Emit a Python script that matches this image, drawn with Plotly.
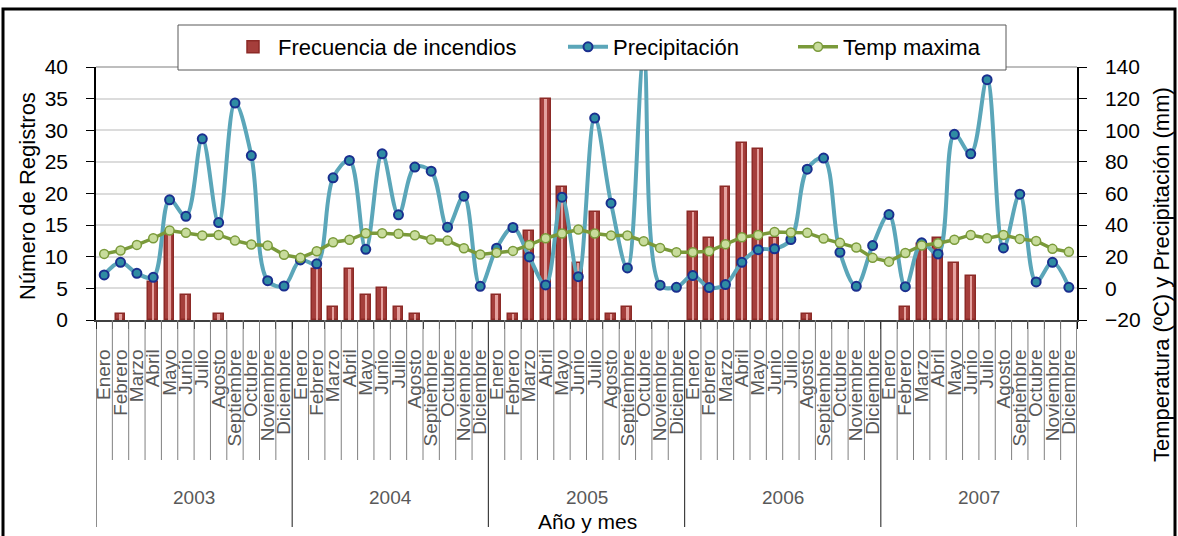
import plotly.graph_objects as go

# ---------------- data ----------------
months = ["Enero", "Febrero", "Marzo", "Abril", "Mayo", "Junio", "Julio",
          "Agosto", "Septiembre", "Octubre", "Noviembre", "Diciembre"]
years = ["2003", "2004", "2005", "2006", "2007"]

incendios_2003 = [0, 1, 0, 6, 14, 4, 0, 1, 0, 0, 0, 0]
incendios_2004 = [0, 8, 2, 8, 4, 5, 2, 1, 0, 0, 0, 0]
incendios_2005 = [4, 1, 14, 35, 21, 9, 17, 1, 2, 0, 0, 0]
incendios_2006 = [17, 13, 21, 28, 27, 13, 0, 1, 0, 0, 0, 0]
incendios_2007 = [0, 2, 12, 13, 9, 7, 0, 0, 0, 0, 0, 0]

precip_2003 = [8.5, 16.5, 9.5, 7, 56, 45.6, 94.6, 41.6, 117.2, 84, 4.9, 1.5]
precip_2004 = [18, 15.5, 69.9, 80.9, 24.7, 85.1, 46.5, 76.7, 74.1, 38.7, 58.3, 1.3]
precip_2005 = [25.4, 38.5, 19.9, 2.2, 57.7, 7.4, 107.7, 53.9, 12.9, 146, 2, 0.7]
precip_2006 = [8.1, 0.5, 2.4, 16.5, 24.5, 25, 30.9, 75.4, 82.4, 22.8, 1.3, 27.1]
precip_2007 = [46.7, 1.1, 28.8, 21.8, 97.4, 85.1, 132, 25.6, 59.6, 4.1, 16.5, 0.7]

temp_2003 = [21.8, 23.9, 27.5, 31.7, 36.6, 35.1, 33.4, 33.8, 30.2, 27.7, 27.1, 21.2]
temp_2004 = [19.3, 23.5, 29.2, 30.7, 34.9, 34.9, 34.5, 33.6, 30.9, 30.2, 25.4, 21.4]
temp_2005 = [22.6, 23.7, 27.5, 31.7, 34.7, 37.2, 34.7, 33.4, 33.4, 29.8, 25.6, 22.9]
temp_2006 = [22.8, 23.5, 27.9, 32.3, 33.8, 35.7, 35.3, 35.1, 31.5, 28.8, 25.8, 19.3]
temp_2007 = [16.9, 22.4, 27.1, 28.5, 30.7, 33.8, 31.7, 33.8, 31.3, 30.0, 25.0, 23.1]

left_ticks = [0, 5, 10, 15, 20, 25, 30, 35, 40]
right_ticks = [-20, 0, 20, 40, 60, 80, 100, 120, 140]

incendios = incendios_2003 + incendios_2004 + incendios_2005 + incendios_2006 + incendios_2007
precip = precip_2003 + precip_2004 + precip_2005 + precip_2006 + precip_2007
temp = temp_2003 + temp_2004 + temp_2005 + temp_2006 + temp_2007
labels = months * len(years)
x = list(range(len(labels)))
# months without fires draw no bar at all
incendios_bars = [v if v else None for v in incendios]

# ---------------- layout geometry (pixels) ----------------
W, H = 1178, 536
ML, MR, MT, MB = 96, 101, 67, 216
PW, PH = W - ML - MR, H - MT - MB


def px(xp):
    return (xp - ML) / PW


def py(yp):
    return (H - MB - yp) / PH


FONT = "Liberation Sans, Arial, sans-serif"

fig = go.Figure()

fig.add_trace(go.Bar(
    x=x, y=incendios_bars, name="Frecuencia de incendios",
    marker=dict(color="#a53e3b", line=dict(color="#8c2a27", width=1.5)),
    width=0.6, yaxis="y", legend="legend",
))
fig.add_trace(go.Bar(
    x=x, y=incendios_bars, showlegend=False, hoverinfo="skip",
    marker=dict(color="rgba(240,180,178,0.85)", line=dict(width=0)),
    width=0.14, yaxis="y",
))
fig.add_trace(go.Scatter(
    x=x, y=precip, name="Precipitación", mode="lines+markers",
    line=dict(color="#5ba6b9", width=4, shape="spline", smoothing=1.0),
    marker=dict(size=9, color="#2f8ca3", line=dict(color="#1a2f8f", width=2)),
    yaxis="y2", legend="legend2",
))
fig.add_trace(go.Scatter(
    x=x, y=temp, name="Temp maxima", mode="lines+markers",
    line=dict(color="#7a9a3a", width=3.5),
    marker=dict(size=9, color="#c8dc9c", line=dict(color="#7a9a3a", width=1.5)),
    yaxis="y2", legend="legend2",
))

shapes = []
# month separators and year separators below the x axis
for k in range(len(labels) + 1):
    xb = k - 0.5
    if k % 12 == 0:
        shapes.append(dict(type="line", xref="x", yref="paper", x0=xb, x1=xb,
                           y0=0, y1=py(527), line=dict(color="#404040", width=1.2)))
    else:
        shapes.append(dict(type="line", xref="x", yref="paper", x0=xb, x1=xb,
                           y0=0, y1=py(460), line=dict(color="#808080", width=1)))
# top border of the plot area
shapes.append(dict(type="line", xref="paper", yref="paper", x0=0, x1=1, y0=1, y1=1,
                   line=dict(color="#7f7f7f", width=1.2)))
# legend box
shapes.append(dict(type="rect", xref="paper", yref="paper", layer="above",
                   x0=px(178), x1=px(1006), y0=py(70), y1=py(25),
                   fillcolor="white", line=dict(color="#595959", width=1)))
# outer chart frame
shapes.append(dict(type="rect", xref="paper", yref="paper",
                   x0=px(3), x1=px(1175), y0=py(548), y1=py(9),
                   fillcolor="rgba(0,0,0,0)", line=dict(color="black", width=3)))

annotations = []
for i, yr in enumerate(years):
    annotations.append(dict(x=i * 12 + 5.5, y=py(497), xref="x", yref="paper",
                            xanchor="center", yanchor="middle",
                            text=yr, showarrow=False,
                            font=dict(family=FONT, size=19, color="#595959")))
annotations.append(dict(x=px(587), y=py(521), xref="paper", yref="paper",
                        xanchor="center", yanchor="middle",
                        text="Año y mes", showarrow=False,
                        font=dict(family=FONT, size=21, color="black")))
annotations.append(dict(x=px(28), y=py(196), xref="paper", yref="paper",
                        xanchor="center", yanchor="middle",
                        text="Número de Registros", showarrow=False, textangle=-90,
                        font=dict(family=FONT, size=22, color="black")))
annotations.append(dict(x=px(1161), y=py(275), xref="paper", yref="paper",
                        xanchor="center", yanchor="middle",
                        text="Temperatura (ºC) y Precipitación (mm)", showarrow=False,
                        textangle=-90, font=dict(family=FONT, size=22, color="black")))

legend_common = dict(orientation="h", yanchor="middle", y=py(47), xanchor="left",
                     bgcolor="rgba(0,0,0,0)", borderwidth=0,
                     font=dict(family=FONT, size=22, color="black"),
                     itemwidth=40, tracegroupgap=0)

fig.update_layout(
    width=W, height=H,
    margin=dict(l=ML, r=MR, t=MT, b=MB, pad=0, autoexpand=False),
    paper_bgcolor="white", plot_bgcolor="white",
    barmode="overlay", bargap=0,
    font=dict(family=FONT, color="black"),
    showlegend=True,
    legend=dict(x=px(228), **legend_common),
    legend2=dict(x=px(563), entrywidth=175, entrywidthmode="pixels", **legend_common),
    xaxis=dict(
        range=[-0.5, len(labels) - 0.5], tickmode="array", tickvals=x, ticktext=labels,
        tickangle=-90, ticks="", showgrid=False, zeroline=False,
        showline=True, linecolor="#404040", linewidth=1.5,
        tickfont=dict(family=FONT, size=19, color="#595959"),
        ticklabelstandoff=20,
        minor=dict(tickmode="array", tickvals=[k - 0.5 for k in range(len(labels) + 1)],
                   ticks="outside", ticklen=7, tickcolor="black", tickwidth=1.2,
                   showgrid=False),
    ),
    yaxis=dict(
        range=[0, 40], tickmode="array", tickvals=left_ticks,
        showgrid=True, gridcolor="#dcdcdc", gridwidth=1.5, zeroline=False,
        showline=True, linecolor="black", linewidth=1.5,
        ticks="outside", ticklen=8, tickcolor="black",
        tickfont=dict(family=FONT, size=21, color="black"),
        ticklabelstandoff=14,
    ),
    yaxis2=dict(
        range=[-20, 140], tickmode="array", tickvals=right_ticks,
        overlaying="y", side="right", showgrid=False, zeroline=False,
        showline=True, linecolor="black", linewidth=1.5,
        ticks="outside", ticklen=8, tickcolor="black",
        tickfont=dict(family=FONT, size=21, color="black"),
        ticklabelstandoff=14,
    ),
    shapes=shapes,
    annotations=annotations,
)

fig.write_html("out.html", config={"displayModeBar": False},
               post_script="document.body.style.margin='0';document.body.style.overflow='hidden';")
